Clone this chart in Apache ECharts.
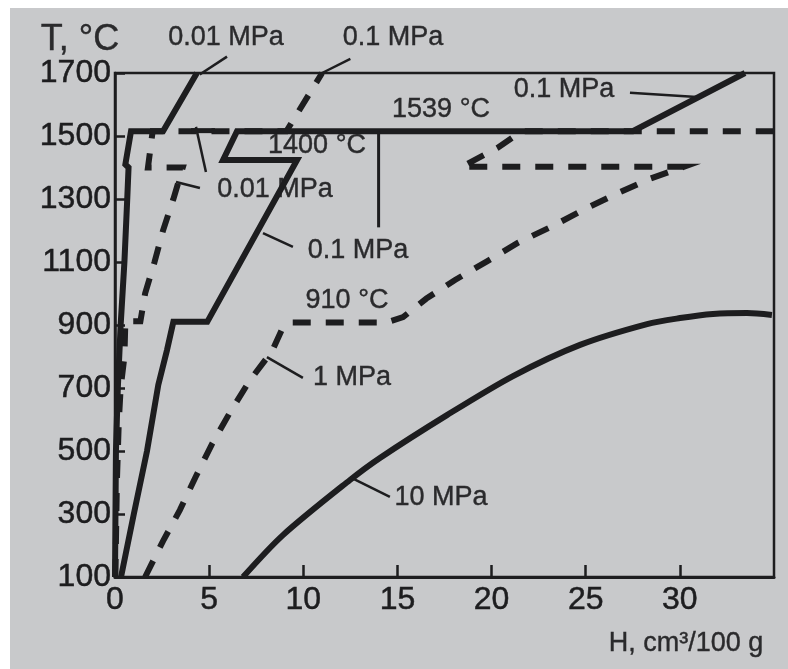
<!DOCTYPE html>
<html>
<head>
<meta charset="utf-8">
<script src="https://cdn.jsdelivr.net/npm/echarts@6.0.0/dist/echarts.min.js"></script>
<style>
  html, body { margin: 0; padding: 0; background: #fff; }
  #paper { position: absolute; left: 10px; top: 8px; width: 778px; height: 661px; background: #c8c9cb; }
  #main { position: absolute; left: 0; top: 0; width: 788px; height: 669px; }
</style>
</head>
<body>
<div id="paper"></div>
<div id="main"></div>
<script>
// axes
const xTicks = [0, 5, 10, 15, 20, 25, 30];
const yTicks = [100, 300, 500, 700, 900, 1100, 1300, 1500, 1700];

// H (cm3/100 g) vs T (°C)
const solid001 = [[0, 100], [0.05, 500], [0.15, 700], [0.3, 900], [0.5, 1100], [0.65, 1300], [0.72, 1400],
    [0.55, 1410], [0.85, 1515], [2.55, 1515], [4.35, 1700]];
const dashed001 = [[0.02, 100], [0.1, 400], [0.2, 590], [0.3, 700], [0.5, 800], [0.55, 912], [1.35, 912],
    [1.6, 1000], [2.1, 1100], [2.55, 1200], [3.1, 1300], [3.6, 1400], [1.75, 1400], [2.0, 1515],
    [9.1, 1515], [11, 1700]];
const solid01 = [[0.32, 100], [1.0, 300], [1.7, 500], [2.3, 710], [2.76, 820], [3.1, 910], [4.9, 910],
    [9.67, 1424], [5.74, 1424], [6.48, 1515], [27.5, 1515], [33.46, 1700]];
const dashed1 = [[1.6, 100], [2.55, 214], [3.45, 313], [4.3, 420], [5.15, 522], [6.15, 627], [7.17, 725],
    [8.34, 817], [8.9, 890], [9.3, 908], [14.4, 908], [15.3, 925], [16.54, 984], [18.06, 1043],
    [19.78, 1103], [21.43, 1162], [23.21, 1213], [24.85, 1265], [26.61, 1316], [28.36, 1363],
    [30.2, 1402], [18.4, 1402], [20.31, 1462], [21.6, 1515], [35, 1515]];
const solid10 = [[6.8, 100], [8.92, 233], [12.48, 408], [14.07, 478], [17.63, 614], [21.14, 738],
    [24.7, 837], [28.26, 903], [30.01, 922], [31.76, 935], [33.56, 938], [34.89, 932]];

// leader lines
const leadTop001 = [[4.5, 1695], [5.95, 1752]];
const leadTop01 = [[11, 1700], [12.5, 1745]];
const leadRight01 = [[27.35, 1637], [30.9, 1624]];
const leadMid001a = [[3.24, 1354], [4.51, 1335]];
const leadMid001b = [[4.3, 1529], [4.83, 1386]];
const leadMid001bar = [[4.04, 1517], [5.31, 1517]];
const leadMid01 = [[7.86, 1192], [9.45, 1148]];
const lead1 = [[8.07, 798], [9.98, 732]];
const lead10 = [[12.48, 417], [14.6, 354]];
const mark1400 = [[14.0, 1515], [14.0, 1210]];

const ink = '#1d1d1f';
const font = '"Liberation Sans", Arial, sans-serif';

function curve(data, dashed, width, smooth) {
    return {
        type: 'line',
        data: data,
        symbol: 'none',
        clip: false,
        silent: true,
        smooth: smooth || false,
        lineStyle: {
            color: ink,
            width: width,
            type: dashed ? [18, 15] : 'solid',
            cap: 'butt',
            join: 'miter'
        }
    };
}

function label(text, x, y, size) {
    return {
        type: 'text',
        x: x,
        y: y,
        style: {
            text: text,
            font: (size || 27) + 'px ' + font,
            fill: '#2a2a2c',
            stroke: '#2a2a2c',
            lineWidth: 0.4,
            align: 'center',
            verticalAlign: 'middle',
            textAlign: 'center',
            textVerticalAlign: 'middle'
        }
    };
}

var myChart = echarts.init(document.getElementById('main'));
let option = {
    animation: false,
    backgroundColor: 'transparent',
    grid: {
        left: 115,
        right: 14,
        top: 73,
        bottom: 92,
        show: true,
        borderColor: ink,
        borderWidth: 2.5
    },
    xAxis: {
        type: 'value',
        min: 0,
        max: 35,
        axisLine: { show: true, onZero: false, lineStyle: { color: ink, width: 3 } },
        axisTick: { show: true, inside: true, length: 12, customValues: xTicks, lineStyle: { color: ink, width: 2.5 } },
        axisLabel: {
            customValues: xTicks, margin: 7, fontSize: 32, color: ink, fontFamily: font,
            textBorderColor: ink, textBorderWidth: 0.5,
            formatter: (v) => String(v)
        },
        splitLine: { show: false }
    },
    yAxis: {
        type: 'value',
        min: 100,
        max: 1700,
        axisLine: { show: true, onZero: false, lineStyle: { color: ink, width: 2.5 } },
        axisTick: { show: true, inside: true, length: 10, customValues: yTicks, lineStyle: { color: ink, width: 2.5 } },
        axisLabel: {
            customValues: yTicks, margin: 4, fontSize: 32, color: ink, fontFamily: font,
            textBorderColor: ink, textBorderWidth: 0.5,
            formatter: (v) => String(v)
        },
        splitLine: { show: false }
    },
    series: [
        curve(dashed001, true, 6),
        curve(dashed1, true, 6),
        curve(solid001, false, 6),
        curve(solid01, false, 6),
        curve(solid10, false, 6, 0.3),
        curve(leadTop001, false, 2.5),
        curve(leadTop01, false, 2.5),
        curve(leadRight01, false, 2.5),
        curve(leadMid001a, false, 2.5),
        curve(leadMid001b, false, 2.5),
        curve(leadMid001bar, false, 5),
        curve(leadMid01, false, 2.5),
        curve(lead1, false, 2.5),
        curve(lead10, false, 2.5),
        curve(mark1400, false, 3)
    ],
    graphic: [
        label('T, °C', 80, 40, 36),
        label('0.01 MPa', 226, 38),
        label('0.1 MPa', 393, 38),
        label('0.1 MPa', 564, 90),
        label('1539 °C', 441, 110),
        label('1400 °C', 317, 146),
        label('0.01 MPa', 275, 190),
        label('0.1 MPa', 358, 251),
        label('910 °C', 347, 301),
        label('1 MPa', 352, 378),
        label('10 MPa', 441, 498),
        label('H, cm³/100 g', 686, 644)
    ]
};
myChart.setOption(option);
</script>
</body>
</html>
